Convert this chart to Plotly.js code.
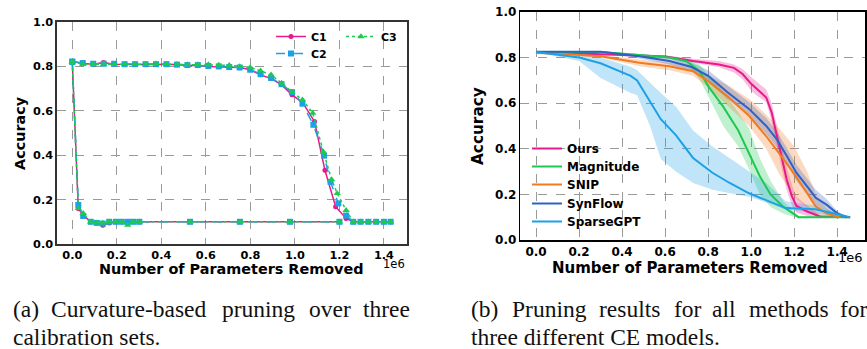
<!DOCTYPE html>
<html>
<head>
<meta charset="utf-8">
<script src="https://cdn.plot.ly/plotly-3.0.1.min.js"></script>
<style>html,body{margin:0;padding:0;background:#fff;}#chart{width:867px;height:349px;}</style>
</head>
<body>
<div id="chart"></div>
<script>
// ---------- Data: (a) curvature-based pruning, x in units of 1e6 ----------
const xTickVals = [0, 0.2, 0.4, 0.6, 0.8, 1.0, 1.2, 1.4];
const yTickVals = [0, 0.2, 0.4, 0.6, 0.8, 1.0];

const plateauX = [0, 0.047, 0.094, 0.141, 0.188, 0.235, 0.282, 0.329, 0.376, 0.423, 0.47, 0.517, 0.564, 0.611, 0.658, 0.705, 0.752, 0.799, 0.846, 0.893, 0.94, 0.987, 1.034];
const c1Plateau = [0.822, 0.813, 0.81, 0.818, 0.81, 0.808, 0.808, 0.81, 0.81, 0.808, 0.808, 0.804, 0.805, 0.8, 0.798, 0.795, 0.795, 0.785, 0.762, 0.745, 0.718, 0.672, 0.638];
const c2Plateau = [0.822, 0.815, 0.812, 0.812, 0.812, 0.81, 0.81, 0.81, 0.81, 0.81, 0.808, 0.806, 0.806, 0.802, 0.8, 0.797, 0.795, 0.785, 0.765, 0.748, 0.72, 0.684, 0.632];
const c3Plateau = [0.822, 0.81, 0.81, 0.81, 0.81, 0.81, 0.81, 0.81, 0.812, 0.81, 0.81, 0.808, 0.808, 0.808, 0.806, 0.805, 0.8, 0.795, 0.78, 0.762, 0.725, 0.685, 0.65];

const c1DropX = [1.088, 1.135, 1.183, 1.23, 1.262, 1.295, 1.33, 1.365, 1.4, 1.43];
const c1DropY = [0.552, 0.332, 0.168, 0.115, 0.1, 0.1, 0.1, 0.1, 0.1, 0.1];
const c2DropX = [1.083, 1.131, 1.16, 1.195, 1.23, 1.262, 1.295, 1.33, 1.365, 1.4, 1.43];
const c2DropY = [0.537, 0.398, 0.28, 0.183, 0.128, 0.1, 0.1, 0.1, 0.1, 0.1, 0.1];
const c3DropX = [1.08, 1.128, 1.165, 1.19, 1.23, 1.262, 1.295, 1.33, 1.365, 1.4, 1.43];
const c3DropY = [0.59, 0.415, 0.29, 0.228, 0.152, 0.1, 0.1, 0.1, 0.1, 0.1, 0.1];

const collapseX = [0, 0.027, 0.049, 0.083, 0.11, 0.137, 0.166, 0.196, 0.222, 0.249, 0.274, 0.301, 0.529, 0.753, 0.978, 1.2];
const c1Collapse = [0.82, 0.16, 0.13, 0.1, 0.095, 0.085, 0.095, 0.1, 0.1, 0.1, 0.1, 0.1, 0.1, 0.1, 0.1, 0.1];
const c2Collapse = [0.82, 0.176, 0.126, 0.1, 0.095, 0.092, 0.1, 0.1, 0.1, 0.1, 0.1, 0.1, 0.1, 0.1, 0.1, 0.1];
const c3Collapse = [0.82, 0.16, 0.138, 0.1, 0.095, 0.095, 0.1, 0.1, 0.1, 0.085, 0.1, 0.1, 0.1, 0.1, 0.1, 0.1];

// ---------- Data: (b) all methods (mean, upper, lower) ----------
const oursX     = [0, 0.2, 0.4, 0.6, 0.73, 0.85, 0.92, 0.96, 1.0, 1.03, 1.07, 1.095, 1.12, 1.14, 1.165, 1.19, 1.21, 1.26, 1.32, 1.46];
const oursMean  = [0.825, 0.818, 0.812, 0.805, 0.785, 0.77, 0.755, 0.728, 0.685, 0.66, 0.625, 0.56, 0.455, 0.37, 0.265, 0.19, 0.15, 0.125, 0.103, 0.1];
const oursUpper = [0.828, 0.822, 0.816, 0.81, 0.795, 0.785, 0.77, 0.75, 0.715, 0.69, 0.66, 0.6, 0.5, 0.42, 0.32, 0.24, 0.19, 0.15, 0.11, 0.1];
const oursLower = [0.822, 0.815, 0.808, 0.8, 0.778, 0.758, 0.735, 0.705, 0.655, 0.63, 0.605, 0.52, 0.41, 0.32, 0.22, 0.15, 0.12, 0.105, 0.1, 0.1];

const magX     = [0, 0.3, 0.48, 0.62, 0.7, 0.76, 0.8, 0.87, 0.94, 0.99, 1.04, 1.09, 1.15, 1.22, 1.46];
const magMean  = [0.825, 0.825, 0.811, 0.8, 0.784, 0.74, 0.675, 0.585, 0.48, 0.38, 0.28, 0.2, 0.145, 0.1, 0.1];
const magUpper = [0.828, 0.828, 0.815, 0.806, 0.795, 0.77, 0.725, 0.65, 0.56, 0.49, 0.36, 0.26, 0.17, 0.105, 0.1];
const magLower = [0.822, 0.822, 0.807, 0.795, 0.772, 0.705, 0.63, 0.5, 0.41, 0.31, 0.2, 0.145, 0.115, 0.095, 0.1];

const snipX     = [0, 0.11, 0.3, 0.48, 0.62, 0.73, 0.8, 0.89, 0.99, 1.07, 1.13, 1.2, 1.26, 1.3, 1.35, 1.41];
const snipMean  = [0.82, 0.817, 0.806, 0.777, 0.762, 0.74, 0.696, 0.63, 0.545, 0.455, 0.38, 0.29, 0.205, 0.147, 0.117, 0.1];
const snipUpper = [0.823, 0.82, 0.812, 0.792, 0.778, 0.76, 0.725, 0.68, 0.62, 0.55, 0.49, 0.41, 0.3, 0.2, 0.14, 0.1];
const snipLower = [0.817, 0.814, 0.8, 0.762, 0.745, 0.72, 0.67, 0.59, 0.5, 0.4, 0.29, 0.19, 0.14, 0.11, 0.1, 0.1];

const synX     = [0, 0.3, 0.48, 0.62, 0.72, 0.8, 0.89, 0.99, 1.07, 1.12, 1.165, 1.21, 1.26, 1.3, 1.35, 1.4, 1.445];
const synMean  = [0.826, 0.826, 0.806, 0.785, 0.76, 0.72, 0.648, 0.575, 0.5, 0.44, 0.37, 0.295, 0.235, 0.185, 0.155, 0.117, 0.1];
const synUpper = [0.829, 0.829, 0.816, 0.8, 0.78, 0.745, 0.678, 0.605, 0.535, 0.475, 0.405, 0.33, 0.27, 0.22, 0.18, 0.127, 0.1];
const synLower = [0.823, 0.823, 0.796, 0.77, 0.74, 0.695, 0.618, 0.545, 0.465, 0.405, 0.335, 0.26, 0.2, 0.15, 0.13, 0.107, 0.1];

const sgX     = [0, 0.2, 0.3, 0.44, 0.47, 0.53, 0.58, 0.65, 0.73, 0.82, 0.9, 0.99, 1.07, 1.16, 1.3, 1.38, 1.46];
const sgMean  = [0.825, 0.8, 0.775, 0.72, 0.7, 0.61, 0.53, 0.46, 0.36, 0.295, 0.25, 0.205, 0.175, 0.14, 0.135, 0.117, 0.1];
const sgUpper = [0.826, 0.822, 0.8, 0.76, 0.745, 0.69, 0.645, 0.585, 0.48, 0.41, 0.36, 0.3, 0.25, 0.17, 0.15, 0.125, 0.1];
const sgLower = [0.824, 0.785, 0.71, 0.645, 0.635, 0.5, 0.355, 0.3, 0.25, 0.22, 0.205, 0.19, 0.165, 0.135, 0.115, 0.105, 0.1];

const captionA1 = [["(a)", 11], ["Curvature-based", 49], ["pruning", 220], ["over", 307], ["three", 361]];
const captionA2 = ["calibration sets.", 11];
const captionB1 = [["(b)", 469], ["Pruning", 510], ["results", 597], ["for", 672], ["all", 710], ["methods", 747], ["for", 838]];
const captionB2 = ["three different CE models.", 469];

// ---------- Styles ----------
const W = 867, H = 349;
const PINK = '#e8198b', BLUE = '#1da1e6', GREEN = '#1ec952', ORANGE = '#f47a20', NAVY = '#2d62c4';
const BOLD = 'DejaVu Sans';
function px(x) { return x / W; }
function py(y) { return 1 - y / H; }
function rgba(hex, a) {
  const n = parseInt(hex.slice(1), 16);
  return `rgba(${(n >> 16) & 255},${(n >> 8) & 255},${n & 255},${a})`;
}

function curve(name, plateau, dropX, dropY, collapse, color, dash, symbol, size, legend) {
  return {
    type: 'scatter', mode: 'lines+markers', name: name, legend: legend,
    x: plateauX.concat(dropX, [null], collapseX),
    y: plateau.concat(dropY, [null], collapse),
    xaxis: 'x', yaxis: 'y',
    line: {color: color, width: 1.5, dash: dash},
    marker: {color: color, symbol: symbol, size: size},
    connectgaps: false
  };
}

function band(xs, up, lo, color) {
  return {
    type: 'scatter', mode: 'lines', showlegend: false, hoverinfo: 'skip',
    x: xs.concat(xs.slice().reverse()),
    y: up.concat(lo.slice().reverse()),
    fill: 'toself', fillcolor: rgba(color, 0.28),
    line: {width: 0, color: rgba(color, 0)},
    xaxis: 'x2', yaxis: 'y2'
  };
}
function meanLine(name, xs, ys, color, legend) {
  return {
    type: 'scatter', mode: 'lines', name: name, legend: legend,
    x: xs, y: ys, xaxis: 'x2', yaxis: 'y2',
    line: {color: color, width: 2}
  };
}

const traces = [
  curve('C1', c1Plateau, c1DropX, c1DropY, c1Collapse, PINK, 'solid', 'circle', 5, 'legend'),
  curve('C2', c2Plateau, c2DropX, c2DropY, c2Collapse, BLUE, 'dash', 'square', 6, 'legend2'),
  curve('C3', c3Plateau, c3DropX, c3DropY, c3Collapse, GREEN, 'dot', 'triangle-up', 6.5, 'legend3'),
  band(oursX, oursUpper, oursLower, PINK),
  band(magX, magUpper, magLower, GREEN),
  band(snipX, snipUpper, snipLower, ORANGE),
  band(synX, synUpper, synLower, NAVY),
  band(sgX, sgUpper, sgLower, BLUE),
  meanLine('Ours', oursX, oursMean, PINK, 'legend4'),
  meanLine('Magnitude', magX, magMean, GREEN, 'legend5'),
  meanLine('SNIP', snipX, snipMean, ORANGE, 'legend6'),
  meanLine('SynFlow', synX, synMean, NAVY, 'legend7'),
  meanLine('SparseGPT', sgX, sgMean, BLUE, 'legend8')
];

function axisX(domain, range, size, lineColor, anchor) {
  return {
    domain: domain, range: range, anchor: anchor,
    tickvals: xTickVals, tickformat: '.1f',
    tickfont: {family: BOLD, size: size, weight: 'bold', color: '#000'},
    showgrid: true, gridcolor: '#9a9a9a', gridwidth: 1, griddash: 'dash',
    zeroline: false, showline: true, mirror: true, linecolor: lineColor, linewidth: 1.6,
    ticks: '', automargin: false, fixedrange: true
  };
}
function axisY(domain, size, lineColor, anchor) {
  return {
    domain: domain, range: [0, 1], anchor: anchor,
    tickvals: yTickVals, tickformat: '.1f',
    tickfont: {family: BOLD, size: size, weight: 'bold', color: '#000'},
    showgrid: true, gridcolor: '#9a9a9a', gridwidth: 1, griddash: 'dash',
    zeroline: false, showline: true, mirror: true, linecolor: lineColor, linewidth: 1.6,
    ticks: '', automargin: false, fixedrange: true
  };
}

const annotations = [];
function txt(text, x, y, size, opts) {
  annotations.push(Object.assign({
    text: text, x: px(x), y: py(y), xref: 'paper', yref: 'paper',
    showarrow: false, xanchor: 'center', yanchor: 'middle',
    font: {family: BOLD, size: size, color: '#000', weight: 'bold'}
  }, opts || {}));
}
// axis titles
txt('Number of Parameters Removed', 232, 269, 14.4);
txt('Accuracy', 20, 133, 14.4, {textangle: -90});
txt('Number of Parameters Removed', 690, 268, 15);
txt('Accuracy', 478, 126, 15.3, {textangle: -90});
// offset labels
txt('1e6', 394, 264, 11.5, {font: {family: BOLD, size: 11.5, color: '#000', weight: 'normal'}});
txt('1e6', 850.5, 257, 13, {font: {family: BOLD, size: 13, color: '#000', weight: 'normal'}});
// captions
const capFont = {family: 'Liberation Serif', size: 23.5, color: '#111', weight: 'normal'};
captionA1.concat(captionB1).forEach(w => txt(w[0], w[1], 309, 23.5, {xanchor: 'left', font: capFont}));
[captionA2, captionB2].forEach(w => txt(w[0], w[1], 337, 23.5, {xanchor: 'left', font: capFont}));

function leg(x, centerY, size) {
  return {
    bgcolor: 'rgba(0,0,0,0)', borderwidth: 0, xanchor: 'left', yanchor: 'top',
    tracegroupgap: 0, itemclick: false, itemdoubleclick: false,
    x: px(x), y: py(centerY - 15),
    font: {family: BOLD, size: size, weight: 'bold', color: '#000'}
  };
}

const layout = {
  width: W, height: H,
  margin: {l: 0, r: 0, t: 0, b: 0, pad: 0},
  paper_bgcolor: '#fff', plot_bgcolor: '#fff',
  showlegend: true,
  xaxis: axisX([px(57), px(407)], [-0.0687, 1.5036], 11.3, '#333', 'y'),
  yaxis: axisY([py(244), py(22)], 11.3, '#333', 'x'),
  xaxis2: axisX([px(520.3), px(865)], [-0.073, 1.529], 12, '#000', 'y2'),
  yaxis2: axisY([py(240), py(12)], 12, '#000', 'x2'),
  legend: leg(271, 37, 11),
  legend2: leg(271, 54, 11),
  legend3: leg(341, 37, 11),
  legend4: leg(527, 149, 12),
  legend5: leg(527, 167, 12),
  legend6: leg(527, 185, 12),
  legend7: leg(527, 204, 12),
  legend8: leg(527, 222, 12),
  annotations: annotations
};

Plotly.newPlot('chart', traces, layout, {staticPlot: true, displayModeBar: false});
</script>
</body>
</html>
